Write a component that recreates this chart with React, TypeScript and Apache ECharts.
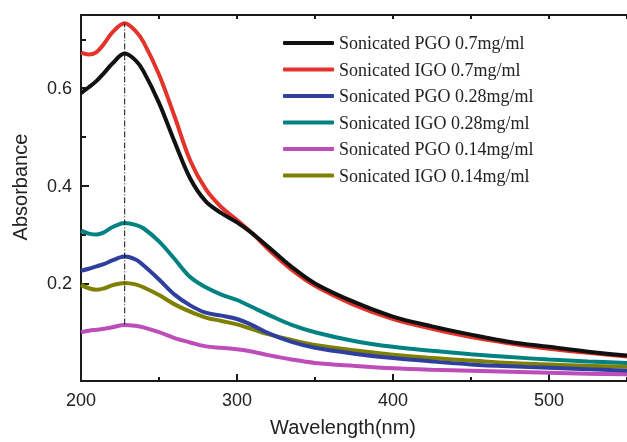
import React, { useEffect, useRef } from "react";
import * as echarts from "echarts";

const wavelengths = [200, 205, 210, 215, 220, 228, 235, 240, 250, 260, 270, 280, 290, 300, 310, 320, 335, 350, 375, 400, 425, 450, 475, 500, 525, 550];

const pgo07 = [0.590, 0.602, 0.615, 0.632, 0.650, 0.671, 0.657, 0.635, 0.570, 0.490, 0.415, 0.368, 0.344, 0.325, 0.302, 0.275, 0.234, 0.200, 0.162, 0.132, 0.112, 0.095, 0.080, 0.070, 0.060, 0.052];
const igo07 = [0.673, 0.669, 0.674, 0.692, 0.714, 0.733, 0.717, 0.695, 0.628, 0.542, 0.452, 0.393, 0.356, 0.330, 0.302, 0.270, 0.228, 0.195, 0.156, 0.127, 0.107, 0.090, 0.077, 0.066, 0.058, 0.050];
const pgo028 = [0.226, 0.230, 0.235, 0.240, 0.247, 0.255, 0.249, 0.237, 0.208, 0.177, 0.155, 0.140, 0.134, 0.127, 0.114, 0.098, 0.080, 0.068, 0.056, 0.047, 0.040, 0.034, 0.030, 0.027, 0.024, 0.021];
const igo028 = [0.308, 0.302, 0.300, 0.305, 0.315, 0.324, 0.320, 0.313, 0.286, 0.250, 0.213, 0.192, 0.177, 0.166, 0.151, 0.136, 0.115, 0.100, 0.082, 0.070, 0.062, 0.055, 0.049, 0.044, 0.040, 0.037];
const pgo014 = [0.100, 0.103, 0.105, 0.107, 0.110, 0.115, 0.113, 0.110, 0.100, 0.088, 0.079, 0.071, 0.068, 0.065, 0.060, 0.053, 0.044, 0.037, 0.031, 0.026, 0.023, 0.021, 0.019, 0.017, 0.015, 0.014];
const igo014 = [0.197, 0.190, 0.187, 0.190, 0.196, 0.201, 0.198, 0.192, 0.176, 0.157, 0.142, 0.130, 0.123, 0.116, 0.106, 0.096, 0.084, 0.074, 0.063, 0.054, 0.047, 0.042, 0.037, 0.034, 0.031, 0.029];

const seriesNames = [
  "Sonicated PGO 0.7mg/ml",
  "Sonicated IGO 0.7mg/ml",
  "Sonicated PGO 0.28mg/ml",
  "Sonicated IGO 0.28mg/ml",
  "Sonicated PGO 0.14mg/ml",
  "Sonicated IGO 0.14mg/ml",
];
const seriesValues = [pgo07, igo07, pgo028, igo028, pgo014, igo014];
const seriesColors = ["#111111", "#e3342b", "#2e3f9f", "#008282", "#bd4db8", "#808000"];

const peakWavelength = 228;
const peakLine = [0.116, 0.733];

const yLabels = [0.2, 0.4, 0.6];

export default function App() {
  const ref = useRef<HTMLDivElement>(null);
  useEffect(() => {
    if (!ref.current) return;
    const chart = echarts.init(ref.current, null, { renderer: "svg" });
    const axisColor = "#1a1a1a";
    const sans = "Liberation Sans";
    const lines = seriesNames.map((name, i) => ({
      name,
      type: "line",
      xAxisIndex: 0,
      yAxisIndex: 0,
      data: wavelengths.map((w, j) => [w, seriesValues[i][j]]),
      showSymbol: false,
      smooth: 0.35,
      lineStyle: { width: 4, color: seriesColors[i] },
      itemStyle: { color: seriesColors[i] },
      z: 10 - i,
    }));
    chart.setOption({
      animation: false,
      grid: { left: 81, right: -2, top: 15, bottom: 57 },
      legend: {
        data: seriesNames,
        orient: "vertical",
        left: 283,
        top: 34,
        padding: 0,
        icon: "roundRect",
        itemWidth: 51,
        itemHeight: 4,
        itemGap: 8.5,
        textStyle: { fontFamily: "Liberation Serif", fontSize: 18, color: "#222", lineHeight: 18 },
      },
      xAxis: [
        {
          type: "value", min: 200, max: 550, interval: 100, position: "bottom",
          axisLine: { show: true, lineStyle: { color: axisColor, width: 2 } },
          axisTick: { show: true, inside: true, length: 7, lineStyle: { width: 2, color: axisColor } },
          axisLabel: { show: true, showMaxLabel: false, fontFamily: sans, fontSize: 18, color: "#222", margin: 10 },
          splitLine: { show: false },
          name: "Wavelength(nm)", nameLocation: "middle", nameGap: 36,
          nameTextStyle: { fontFamily: sans, fontSize: 20, color: "#222", padding: [0, 22, 0, 0] },
        },
        {
          type: "value", min: 200, max: 550, interval: 50, position: "bottom",
          axisLine: { show: false },
          axisTick: { show: true, inside: true, length: 4, lineStyle: { width: 2, color: axisColor } },
          axisLabel: { show: false },
          splitLine: { show: false },
        },
        {
          type: "value", min: 200, max: 550, interval: 50, position: "top",
          axisLine: { show: true, lineStyle: { color: axisColor, width: 2 } },
          axisTick: { show: true, inside: true, length: 4, lineStyle: { width: 2, color: axisColor } },
          axisLabel: { show: false },
          splitLine: { show: false },
        },
      ],
      yAxis: [
        {
          type: "value", min: 0, max: 0.75, interval: 0.2, position: "left",
          axisLine: { show: true, lineStyle: { color: axisColor, width: 2 } },
          axisTick: { show: true, inside: true, length: 8, lineStyle: { width: 2, color: axisColor } },
          axisLabel: {
            show: true, fontFamily: sans, fontSize: 18, color: "#222", margin: 9,
            formatter: (v: number) => (yLabels.some((l) => Math.abs(l - v) < 1e-6) ? v.toFixed(1) : ""),
          },
          splitLine: { show: false },
          name: "Absorbance", nameLocation: "middle", nameGap: 51,
          nameTextStyle: { fontFamily: sans, fontSize: 20, color: "#222", padding: [0, 0, 0, 22] },
        },
        {
          type: "value", min: 0, max: 0.75, interval: 0.1, position: "left",
          axisLine: { show: false },
          axisTick: { show: true, inside: true, length: 5, lineStyle: { width: 2, color: axisColor } },
          axisLabel: { show: false },
          splitLine: { show: false },
        },
      ],
      series: [
        ...lines,
        {
          name: "peak",
          type: "line",
          xAxisIndex: 0,
          yAxisIndex: 0,
          data: peakLine.map((v) => [peakWavelength, v]),
          showSymbol: false,
          lineStyle: { width: 1, color: "#111", type: [6, 2, 1, 2] },
          z: 20,
        },
      ],
    });
    return () => chart.dispose();
  }, []);
  return <div ref={ref} style={{ position: "fixed", left: 0, top: 0, width: 627, height: 442 }} />;
}
